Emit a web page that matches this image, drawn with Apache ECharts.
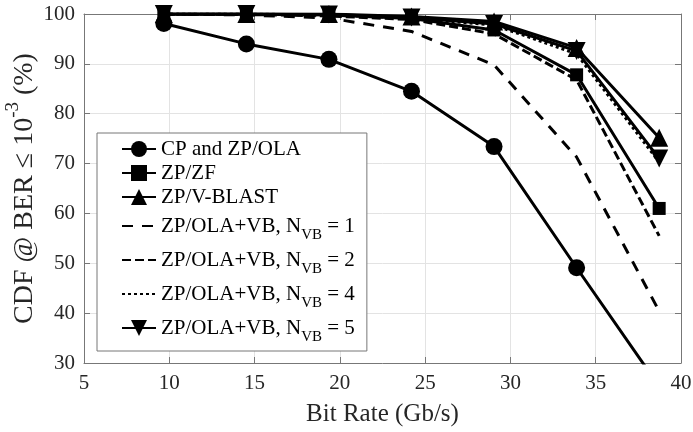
<!DOCTYPE html>
<html>
<head>
<meta charset="utf-8">
<script src="https://cdn.jsdelivr.net/npm/echarts@6/dist/echarts.min.js"></script>
<style>
  html, body { margin: 0; padding: 0; background: #ffffff; }
  #chart { width: 693px; height: 432px; }
</style>
</head>
<body>
<div id="chart"></div>
<script>
// Bit rates (Gb/s) at which the CDF was evaluated
const bitRate = [9.68, 14.52, 19.36, 24.2, 29.04, 33.88, 38.72];

// CDF @ BER <= 1e-3 (%) for each receiver scheme
const cpZpOla  = [98.1, 94.0, 90.9, 84.5, 73.4, 49.1, 25.3];
const zpZf     = [100, 100, 99.8, 99.1, 96.8, 87.8, 61.0];
const zpVblast = [100, 100, 100, 99.5, 98.5, 93.2, 75.2];
const vbN1     = [100, 99.8, 99.2, 96.5, 89.8, 71.3, 40.4];
const vbN2     = [100, 99.9, 99.6, 98.9, 96.0, 86.8, 55.5];
const vbN4     = [100, 100, 99.8, 99.2, 97.8, 92.0, 70.3];
const vbN5     = [100, 100, 99.9, 99.3, 98.0, 92.6, 71.0];

// Axis ranges
const xRange = { min: 5, max: 40, interval: 5 };
const yRange = { min: 30, max: 100, interval: 10 };

const FONT = '"Liberation Serif", "Times New Roman", serif';
const INK = '#000000';

function pts(values) {
  return bitRate.map((x, i) => [x, values[i]]);
}

const legendText = {
  'CP and ZP/OLA': 'CP and ZP/OLA',
  'ZP/ZF': 'ZP/ZF',
  'ZP/V-BLAST': 'ZP/V-BLAST',
  'ZP/OLA+VB, N_VB = 1': '{b|ZP/OLA+VB, N}{s|VB}{b| = 1}',
  'ZP/OLA+VB, N_VB = 2': '{b|ZP/OLA+VB, N}{s|VB}{b| = 2}',
  'ZP/OLA+VB, N_VB = 4': '{b|ZP/OLA+VB, N}{s|VB}{b| = 4}',
  'ZP/OLA+VB, N_VB = 5': '{b|ZP/OLA+VB, N}{s|VB}{b| = 5}'
};

function lineSeries(name, values, symbol, size, dash, extra) {
  return Object.assign({
    name: name,
    type: 'line',
    data: pts(values),
    symbol: symbol,
    symbolSize: size,
    showSymbol: symbol !== 'none',
    clip: true,
    itemStyle: { color: INK, borderWidth: 0 },
    lineStyle: { color: INK, width: 3, type: dash, join: 'round', cap: 'butt' },
    emphasis: { disabled: true }
  }, extra || {});
}

const series = [
  lineSeries('ZP/OLA+VB, N_VB = 1', vbN1, 'none', 0, [11, 9]),
  lineSeries('ZP/OLA+VB, N_VB = 2', vbN2, 'none', 0, [9, 4]),
  lineSeries('ZP/OLA+VB, N_VB = 4', vbN4, 'none', 0, [3, 3]),
  lineSeries('CP and ZP/OLA', cpZpOla, 'circle', 17, 'solid'),
  lineSeries('ZP/ZF', zpZf, 'rect', 13, 'solid'),
  lineSeries('ZP/OLA+VB, N_VB = 5', vbN5, 'triangle', 18, 'solid', { symbolRotate: 180 }),
  lineSeries('ZP/V-BLAST', zpVblast, 'triangle', 18, 'solid')
];

const gridLine = { show: true, lineStyle: { color: '#e3e3e3', width: 1 } };
const frameLine = { show: true, onZero: false, lineStyle: { color: '#777777', width: 1 } };
const innerTick = { show: true, inside: true, length: 6, lineStyle: { color: '#777777', width: 1 } };
const tickFont = { fontFamily: FONT, fontSize: 21, color: '#262626' };

// Dashed/dotted entries show only their line in the legend
const noMarker = { opacity: 0 };

const option = {
  animation: false,
  backgroundColor: '#ffffff',
  textStyle: { fontFamily: FONT },
  grid: { left: 84, top: 14, width: 597, height: 349, containLabel: false, outerBoundsMode: 'none' },
  xAxis: [
    Object.assign({
      type: 'value',
      name: 'Bit Rate (Gb/s)',
      nameLocation: 'middle',
      nameGap: 39,
      nameMoveOverlap: false,
      nameTextStyle: { fontFamily: FONT, fontSize: 25, color: '#262626' },
      axisLine: frameLine,
      axisTick: innerTick,
      splitLine: gridLine,
      axisLabel: Object.assign({ margin: 10 }, tickFont)
    }, xRange),
    Object.assign({
      type: 'value',
      position: 'top',
      axisLine: frameLine,
      axisTick: innerTick,
      splitLine: { show: false },
      axisLabel: { show: false }
    }, xRange)
  ],
  yAxis: [
    Object.assign({
      type: 'value',
      name: '{b|CDF @ BER \u2264 10}{p|-3}{b| (%)}',
      nameLocation: 'middle',
      nameGap: 45,
      nameMoveOverlap: false,
      nameTextStyle: {
        fontFamily: FONT, color: '#262626',
        rich: {
          b: { fontFamily: FONT, fontSize: 28, color: '#262626', lineHeight: 35, verticalAlign: 'bottom' },
          p: { fontFamily: FONT, fontSize: 19, color: '#262626', lineHeight: 19, verticalAlign: 'top' }
        }
      },
      axisLine: frameLine,
      axisTick: innerTick,
      splitLine: gridLine,
      axisLabel: Object.assign({ margin: 9 }, tickFont)
    }, yRange),
    Object.assign({
      type: 'value',
      position: 'right',
      axisLine: frameLine,
      axisTick: innerTick,
      splitLine: { show: false },
      axisLabel: { show: false }
    }, yRange)
  ],
  legend: {
    orient: 'vertical',
    left: 97,
    top: 133,
    padding: [4, 12, 6, 24],
    itemGap: 0,
    itemWidth: 34,
    itemHeight: 20,
    selectedMode: false,
    backgroundColor: '#ffffff',
    borderColor: '#777777',
    borderWidth: 1,
    borderRadius: 0,
    data: [
      { name: 'CP and ZP/OLA' },
      { name: 'ZP/ZF' },
      { name: 'ZP/V-BLAST' },
      { name: 'ZP/OLA+VB, N_VB = 1', itemStyle: noMarker },
      { name: 'ZP/OLA+VB, N_VB = 2', itemStyle: noMarker },
      { name: 'ZP/OLA+VB, N_VB = 4', itemStyle: noMarker },
      { name: 'ZP/OLA+VB, N_VB = 5' }
    ],
    formatter: function (name) { return legendText[name]; },
    textStyle: {
      fontFamily: FONT, fontSize: 21, color: '#000000', lineHeight: 24,
      rich: {
        b: { fontFamily: FONT, fontSize: 21, color: '#000000', lineHeight: 34, verticalAlign: 'middle' },
        s: { fontFamily: FONT, fontSize: 15, color: '#000000', verticalAlign: 'bottom' }
      }
    }
  },
  series: series
};

const chart = echarts.init(document.getElementById('chart'), null, { renderer: 'canvas' });
chart.setOption(option);
</script>
</body>
</html>
